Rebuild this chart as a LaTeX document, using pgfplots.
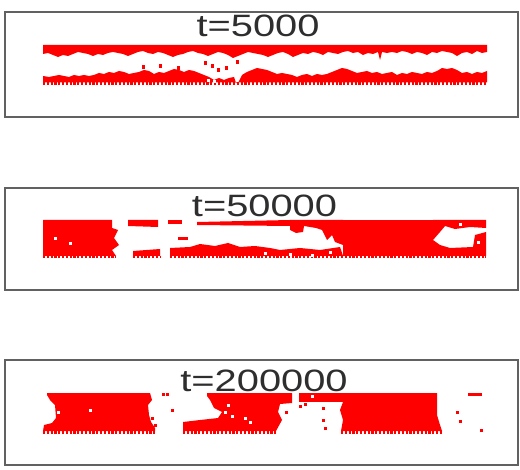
\documentclass[border=0pt]{standalone}
\usepackage{pgfplots}
\pgfplotsset{compat=1.18}
\usepackage{graphicx}
\usepackage{fontspec}
\setmainfont{Liberation Sans}
\pgfplotsset{
  panel/.style={scale only axis, width=513bp, xmin=5, xmax=518, y dir=reverse,
    xtick=\empty, ytick=\empty, axis line style={draw=black!62, line width=1.6bp},
    clip=true, anchor=south west},
  blob/.style={fill=red, draw=none},
  dots/.style={only marks, mark=square*, mark size=1.3bp, color=red},
  holes/.style={only marks, mark=square*, mark size=1.2bp, color=white},
  comb/.style={red, line width=2.4bp, dash pattern=on 2.2bp off 1.6bp},
}
\newcommand{\ttl}[1]{\scalebox{1.29}[1]{\fontsize{31}{31}\selectfont\color{black!82}#1}}
\begin{document}
\begin{tikzpicture}
\useasboundingbox (0,0) rectangle (520bp,470bp);
% ---------------- panel 1 ----------------
\begin{axis}[panel, ymin=12, ymax=117, height=105bp, at={(5bp,353bp)}]
\addplot[blob] coordinates {(43,45)(487,45)(487,52)(482,53)(477,51)(472,54)(467,52)(462,53)(457,56)(452,53)(447,52)(442,51)(437,53)(432,52)(427,55)(422,53)(417,52)(412,54)(407,52)(402,51)(397,53)(392,52)(387,53)(382,52)(380,60)(378,52)(373,54)(368,53)(363,55)(358,52)(353,53)(348,51)(343,52)(338,54)(333,53)(328,52)(323,55)(318,53)(313,52)(308,54)(303,53)(298,55)(293,57)(288,54)(283,52)(278,53)(273,55)(268,57)(263,55)(258,54)(253,53)(248,52)(243,54)(238,56)(233,58)(228,55)(223,53)(218,52)(213,54)(208,56)(203,54)(198,53)(193,51)(188,52)(183,54)(178,55)(173,57)(168,55)(163,53)(158,52)(153,54)(148,53)(143,51)(138,52)(133,54)(128,56)(123,54)(118,53)(113,52)(108,53)(103,55)(98,54)(93,56)(88,54)(83,53)(78,52)(73,54)(68,56)(63,55)(58,57)(53,55)(48,53)(43,54)};
\addplot[blob] coordinates {(43,82.5)(487,82.5)(487,71)(482,73)(477,72)(472,74)(467,72)(462,73)(457,70)(452,68)(447,69)(442,68)(437,71)(432,73)(427,72)(422,74)(417,73)(412,72)(407,74)(402,73)(397,75)(392,72)(387,73)(382,74)(377,72)(372,73)(367,71)(362,72)(357,73)(352,71)(347,69)(342,68)(337,70)(332,72)(327,74)(322,75)(317,74)(312,76)(307,74)(302,75)(297,77)(292,75)(287,74)(282,73)(277,74)(272,72)(267,70)(262,69)(257,68)(252,70)(247,72)(242,75)(240,79)(238,83)(236,83)(234,77)(229,78)(224,80)(219,78)(214,80)(209,77)(204,75)(199,73)(194,71)(189,70)(184,72)(179,70)(174,69)(169,71)(164,73)(159,72)(154,74)(149,71)(144,70)(139,72)(134,73)(129,74)(124,72)(119,71)(114,73)(109,72)(104,74)(99,73)(94,75)(89,76)(84,75)(79,76)(74,75)(69,77)(64,76)(59,75)(54,76)(49,77)(43,76)};
\addplot[comb] coordinates {(43,83.5)(487,83.5)};
\addplot[dots] coordinates {(143,67)(160,66)(178,68)(205,63)(212,66)(218,70)(237,62)(226,68)};
\addplot[holes] coordinates {(214,81)(208,80)};
\node[anchor=base, inner sep=0pt] at (axis cs:258,37) {\ttl{t=5000}};
\end{axis}
% ---------------- panel 2 ----------------
\begin{axis}[panel, ymin=188, ymax=290, height=102bp, at={(5bp,180bp)}]
\addplot[blob] coordinates {(43,220)(112,220)(112,228)(118,230)(114,238)(119,245)(112,250)(116,256)(43,256)};
% top stripes
\addplot[blob] coordinates {(128,220)(158,220)(158,227)(128,226)};
\addplot[blob] coordinates {(168,220)(182,220)(182,224)(168,224)};
\addplot[blob] coordinates {(197,222)(290,220)(290,226)(197,225)};
\addplot[blob] coordinates {(290,220)(343,220)(343,245)(335,242)(332,235)(327,240)(322,230)(316,228)(304,226)(303,232)(296,233)(290,230)};
\addplot[blob] coordinates {(178,237)(188,237)(188,240)(178,240)};
% bottom pieces
\addplot[blob] coordinates {(133,251)(160,249)(160,256)(133,256)};
\addplot[blob] coordinates {(170,248)(190,247)(200,244)(215,246)(228,243)(240,247)(255,246)(270,248)(280,250)(300,248)(320,250)(340,247)(343,256)(170,256)};
\addplot[holes] coordinates {(265,253)(290,254)(312,255)(330,252)};
% solid block
\addplot[blob] coordinates {(343,220)(433,220)(433,256)(343,256)};
% right region
\addplot[blob] coordinates {(433,220)(486,220)(486,228)(470,227)(455,229)(445,226)(440,232)(433,240)};
\addplot[blob] coordinates {(433,240)(440,245)(450,248)(473,247)(475,235)(486,232)(486,256)(433,256)};
\addplot[comb] coordinates {(43,257)(116,257)};
\addplot[comb] coordinates {(133,257)(160,257)};
\addplot[comb] coordinates {(170,257)(486,257)};
\addplot[holes] coordinates {(55,238)(70,243)(460,224)(478,242)};
\node[anchor=base, inner sep=0pt] at (axis cs:264.5,217) {\ttl{t=50000}};
\end{axis}
% ---------------- panel 3 ----------------
\begin{axis}[panel, ymin=360, ymax=465, height=105bp, at={(5bp,5bp)}]
\addplot[blob] coordinates {(47,393)(150,393)(152,400)(148,405)(149,415)(151,422)(155,428)(155,431)(43,431)(44,425)(52,423)(56,418)(55,405)(50,400)(47,395)};
\addplot[blob] coordinates {(207,393)(292,393)(292,403)(280,404)(278,412)(282,420)(276,431)(183,431)(183,422)(200,420)(218,418)(222,412)(214,408)(210,400)(207,396)};
\addplot[blob] coordinates {(299,393)(343,393)(343,402)(299,402)};
\addplot[blob] coordinates {(343,393)(437,393)(437,415)(440,425)(442,431)(341,431)(343,420)(340,410)(343,402)};
\addplot[blob] coordinates {(468,393)(482,393)(482,396)(468,396)};
\addplot[comb] coordinates {(43,432.5)(155,432.5)};
\addplot[comb] coordinates {(183,432.5)(276,432.5)};
\addplot[comb] coordinates {(341,432.5)(442,432.5)};
\addplot[dots] coordinates {(163,394)(167,394)(172,410)(152,418)(155,425)(323,408)(323,420)(325,428)(457,412)(460,421)(481,430)(300,406)(305,404)(286,412)};
\addplot[holes] coordinates {(58,412)(90,410)(225,412)(232,416)(245,418)(228,405)(250,422)(312,396)};
\node[anchor=base, inner sep=0pt] at (axis cs:264,391) {\ttl{t=200000}};
\end{axis}
\end{tikzpicture}
\end{document}
